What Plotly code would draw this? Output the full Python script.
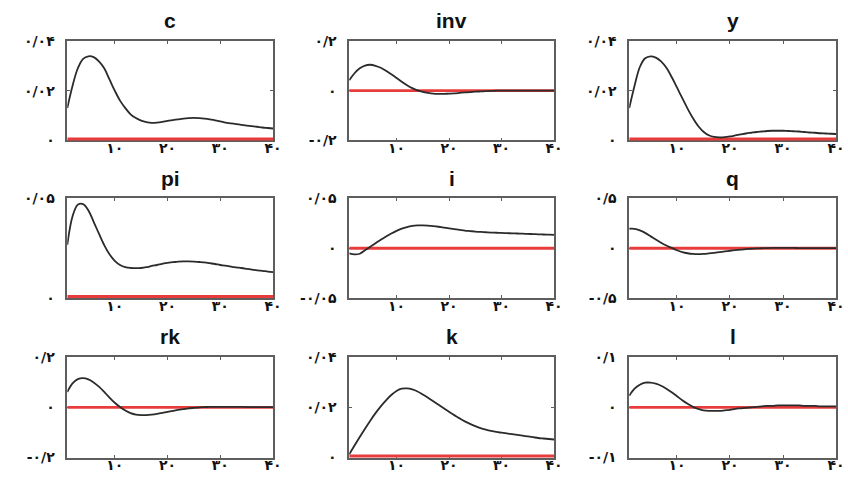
import plotly.graph_objects as go

periods = list(range(1, 41))

c_vals = [0.0130, 0.0220, 0.0290, 0.0328, 0.0338, 0.0335, 0.0318, 0.0290, 0.0245, 0.0200,
          0.0160, 0.0130, 0.0105, 0.0090, 0.0080, 0.0074, 0.0071, 0.0072, 0.0075, 0.0079,
          0.0082, 0.0085, 0.0088, 0.0090, 0.0091, 0.0090, 0.0088, 0.0085, 0.0081, 0.0077,
          0.0072, 0.0069, 0.0066, 0.0063, 0.0060, 0.0058, 0.0055, 0.0052, 0.0050, 0.0048]
inv_vals = [0.042, 0.070, 0.090, 0.101, 0.104, 0.100, 0.092, 0.080, 0.066, 0.051,
            0.036, 0.022, 0.010, 0.001, -0.005, -0.009, -0.012, -0.013, -0.013, -0.012,
            -0.011, -0.009, -0.007, -0.006, -0.004, -0.003, -0.002, -0.001, 0.000, 0.000,
            0.000, 0.000, 0.000, 0.000, 0.000, 0.000, 0.000, 0.000, 0.000, 0.000]
y_vals = [0.0130, 0.0220, 0.0295, 0.0330, 0.0338, 0.0333, 0.0318, 0.0292, 0.0255, 0.0213,
          0.0170, 0.0128, 0.0090, 0.0058, 0.0035, 0.0021, 0.0014, 0.0012, 0.0013, 0.0016,
          0.0020, 0.0024, 0.0028, 0.0031, 0.0034, 0.0036, 0.0038, 0.0039, 0.0039, 0.0039,
          0.0038, 0.0037, 0.0036, 0.0034, 0.0032, 0.0031, 0.0029, 0.0028, 0.0027, 0.0026]
pi_vals = [0.0267, 0.0411, 0.0469, 0.0472, 0.0440, 0.0383, 0.0323, 0.0266, 0.0220, 0.0187,
           0.0166, 0.0155, 0.0151, 0.0150, 0.0151, 0.0155, 0.0161, 0.0166, 0.0172, 0.0177,
           0.0180, 0.0183, 0.0184, 0.0184, 0.0183, 0.0181, 0.0179, 0.0175, 0.0171, 0.0166,
           0.0163, 0.0158, 0.0154, 0.0151, 0.0147, 0.0143, 0.0139, 0.0137, 0.0133, 0.0130]
i_vals = [-0.0052, -0.0061, -0.0055, -0.0020, 0.0015, 0.0050, 0.0085, 0.0118, 0.0148, 0.0175,
          0.0197, 0.0213, 0.0224, 0.0229, 0.0230, 0.0228, 0.0223, 0.0216, 0.0208, 0.0200,
          0.0192, 0.0185, 0.0178, 0.0173, 0.0168, 0.0164, 0.0161, 0.0158, 0.0156, 0.0154,
          0.0152, 0.0150, 0.0148, 0.0146, 0.0144, 0.0142, 0.0140, 0.0138, 0.0136, 0.0134]
q_vals = [0.196, 0.195, 0.180, 0.155, 0.122, 0.088, 0.056, 0.028, 0.004, -0.020,
          -0.038, -0.050, -0.057, -0.059, -0.057, -0.052, -0.046, -0.039, -0.032, -0.025,
          -0.019, -0.014, -0.009, -0.005, -0.002, 0.000, 0.002, 0.003, 0.003, 0.003,
          0.003, 0.003, 0.002, 0.002, 0.002, 0.002, 0.001, 0.001, 0.001, 0.001]
rk_vals = [0.061, 0.095, 0.112, 0.116, 0.111, 0.099, 0.082, 0.061, 0.039, 0.018,
           0.001, -0.013, -0.023, -0.029, -0.031, -0.031, -0.029, -0.026, -0.022, -0.018,
           -0.014, -0.010, -0.007, -0.004, -0.002, 0.000, 0.001, 0.002, 0.002, 0.002,
           0.002, 0.002, 0.002, 0.002, 0.001, 0.001, 0.001, 0.001, 0.001, 0.001]
k_vals = [0.0013, 0.0048, 0.0082, 0.0115, 0.0147, 0.0177, 0.0204, 0.0228, 0.0249, 0.0265,
          0.0274, 0.0275, 0.0271, 0.0263, 0.0251, 0.0238, 0.0224, 0.0210, 0.0196, 0.0182,
          0.0169, 0.0156, 0.0144, 0.0134, 0.0125, 0.0117, 0.0111, 0.0106, 0.0102, 0.0099,
          0.0096, 0.0093, 0.0090, 0.0087, 0.0084, 0.0081, 0.0078, 0.0076, 0.0074, 0.0072]
l_vals = [0.023, 0.037, 0.045, 0.049, 0.049, 0.047, 0.043, 0.037, 0.030, 0.022,
          0.014, 0.007, 0.001, -0.003, -0.006, -0.007, -0.007, -0.007, -0.006, -0.005,
          -0.003, -0.002, -0.001, 0.000, 0.001, 0.002, 0.003, 0.003, 0.004, 0.004,
          0.004, 0.004, 0.004, 0.003, 0.003, 0.003, 0.002, 0.002, 0.002, 0.002]
steady_state = [0.0] * 40

titles = ["c", "inv", "y", "pi", "i", "q", "rk", "k", "l"]
series = [c_vals, inv_vals, y_vals, pi_vals, i_vals, q_vals, rk_vals, k_vals, l_vals]
y_ranges = [[0, 0.04], [-0.2, 0.2], [0, 0.04],
            [0, 0.05], [-0.05, 0.05], [-0.5, 0.5],
            [-0.2, 0.2], [0, 0.04], [-0.1, 0.1]]
y_tickvals = [[0, 0.02, 0.04], [-0.2, 0, 0.2], [0, 0.02, 0.04],
              [0, 0.05], [-0.05, 0, 0.05], [-0.5, 0, 0.5],
              [-0.2, 0, 0.2], [0, 0.02, 0.04], [-0.1, 0, 0.1]]
y_ticktext = [["۰", "۰/۰۲", "۰/۰۴"], ["-۰/۲", "۰", "۰/۲"], ["۰", "۰/۰۲", "۰/۰۴"],
              ["۰", "۰/۰۵"], ["-۰/۰۵", "۰", "۰/۰۵"], ["-۰/۵", "۰", "۰/۵"],
              ["-۰/۲", "۰", "۰/۲"], ["۰", "۰/۰۲", "۰/۰۴"], ["-۰/۱", "۰", "۰/۱"]]
x_tickvals = [10, 20, 30, 40]
x_ticktext = ["۱۰", "۲۰", "۳۰", "۴۰"]

W, H = 848, 483
col_px = [(68, 276), (353, 560), (636, 845)]
row_px = [(34, 137), (197, 300), (361, 465)]

fig = go.Figure()
layout = dict(width=W, height=H, margin=dict(l=0, r=0, t=0, b=0),
              paper_bgcolor="white", plot_bgcolor="white", showlegend=False,
              font=dict(family="DejaVu Sans", color="#111111"))
annotations = []
for idx in range(9):
    r, cc = divmod(idx, 3)
    n = idx + 1
    xa = "x" if n == 1 else f"x{n}"
    ya = "y" if n == 1 else f"y{n}"
    x0, x1 = col_px[cc]
    y0, y1 = row_px[r]
    xdom = [x0 / W, x1 / W]
    ydom = [1 - y1 / H, 1 - y0 / H]
    axcommon = dict(showline=True, linecolor="#5e5e5e", linewidth=1.6, mirror="ticks",
                    ticks="inside", ticklen=3, tickcolor="#5e5e5e", showgrid=False,
                    zeroline=False, layer="below traces",
                    tickfont=dict(family="DejaVu Sans", size=14, color="#111111",
                                  weight="bold"))
    layout["xaxis" if n == 1 else f"xaxis{n}"] = dict(
        domain=xdom, range=[1, 40], tickvals=x_tickvals, ticktext=x_ticktext,
        anchor=ya, ticklabelstandoff=-6, **axcommon)
    layout["yaxis" if n == 1 else f"yaxis{n}"] = dict(
        domain=ydom, range=y_ranges[idx], tickvals=y_tickvals[idx],
        ticktext=y_ticktext[idx], anchor=xa, ticklabelstandoff=8, **axcommon)
    at_bottom = y_ranges[idx][0] == 0
    fig.add_trace(go.Scatter(x=periods, y=steady_state, mode="lines", xaxis=xa, yaxis=ya,
                             line=dict(color="rgb(232,60,60)", width=6 if at_bottom else 2.8)))
    fig.add_trace(go.Scatter(x=periods, y=series[idx], mode="lines", xaxis=xa, yaxis=ya,
                             line=dict(color="#2b2b2b", width=1.8, shape="spline")))
    annotations.append(dict(text="<b>" + titles[idx] + "</b>", xref="paper", yref="paper",
                            x=(xdom[0] + xdom[1]) / 2, y=1 - (y0 - 7) / H,
                            xanchor="center", yanchor="bottom", showarrow=False,
                            font=dict(family="Liberation Sans", size=21, color="#111111")))
layout["annotations"] = annotations
fig.update_layout(**layout)
fig.write_html("out.html")
